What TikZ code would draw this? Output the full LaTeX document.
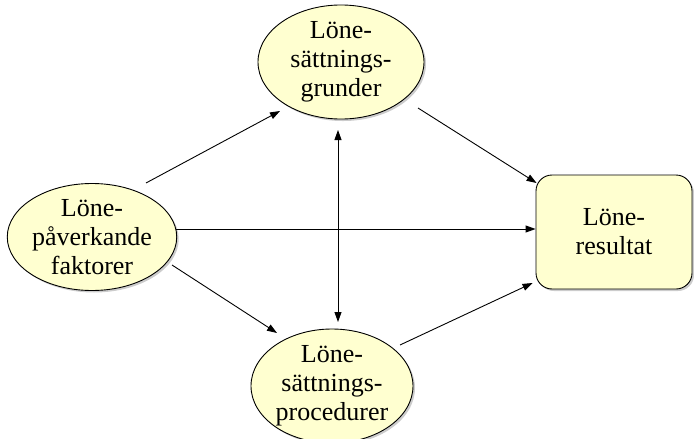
\documentclass[tikz,border=0pt]{standalone}
\usepackage{fontspec}
\setmainfont{Liberation Serif}
\usetikzlibrary{shapes.geometric,shadows,arrows.meta}
\definecolor{nodefill}{RGB}{255,255,208}
\tikzset{
  base/.style={draw=black, line width=0.9pt, fill=nodefill, align=center, inner sep=0pt,
    font=\fontsize{26}{29}\selectfont,
    drop shadow={shadow xshift=2pt, shadow yshift=-2pt, fill=black!40, opacity=0.5}},
  oval/.style={base, ellipse},
  box/.style={base, rectangle, rounded corners=16pt},
  tip/.style={Triangle[length=10pt,width=7pt]},
  conn/.style={line width=0.9pt, -{Triangle[length=10pt,width=7pt]}},
  both/.style={line width=0.9pt, {Triangle[length=10pt,width=7pt]}-{Triangle[length=10pt,width=7pt]}},
}
\begin{document}
\begin{tikzpicture}[x=1pt,y=-1pt]
\useasboundingbox (0,0) rectangle (694,439);
\node[oval, minimum width=168pt, minimum height=107pt] (left) at (92,237) {Löne-\\påverkande\\faktorer};
\node[oval, minimum width=166pt, minimum height=114pt] (top) at (341,62) {Löne-\\sättnings-\\grunder};
\node[oval, minimum width=162pt, minimum height=114pt] (bot) at (332,386) {Löne-\\sättnings-\\procedurer};
\node[box, minimum width=156pt, minimum height=114pt] (res) at (614,232) {Löne-\\resultat};
\draw[conn] ([shift={(54,-54)}]left.center) -- ([shift={(-61,49)}]top.center);
\draw[conn] ([shift={(84,-8)}]left.center) -- ([shift={(0,-3)}]res.west);
\draw[conn] ([shift={(80,28)}]left.center) -- ([shift={(-55,-53)}]bot.center);
\draw[conn] ([shift={(77,46)}]top.center) -- ([shift={(1,-49)}]res.west);
\draw[conn] ([shift={(68,-41)}]bot.center) -- ([shift={(-3,51)}]res.west);
\draw[both] ([shift={(-3,68)}]top.center) -- ([shift={(6,-64)}]bot.center);
\end{tikzpicture}
\end{document}
